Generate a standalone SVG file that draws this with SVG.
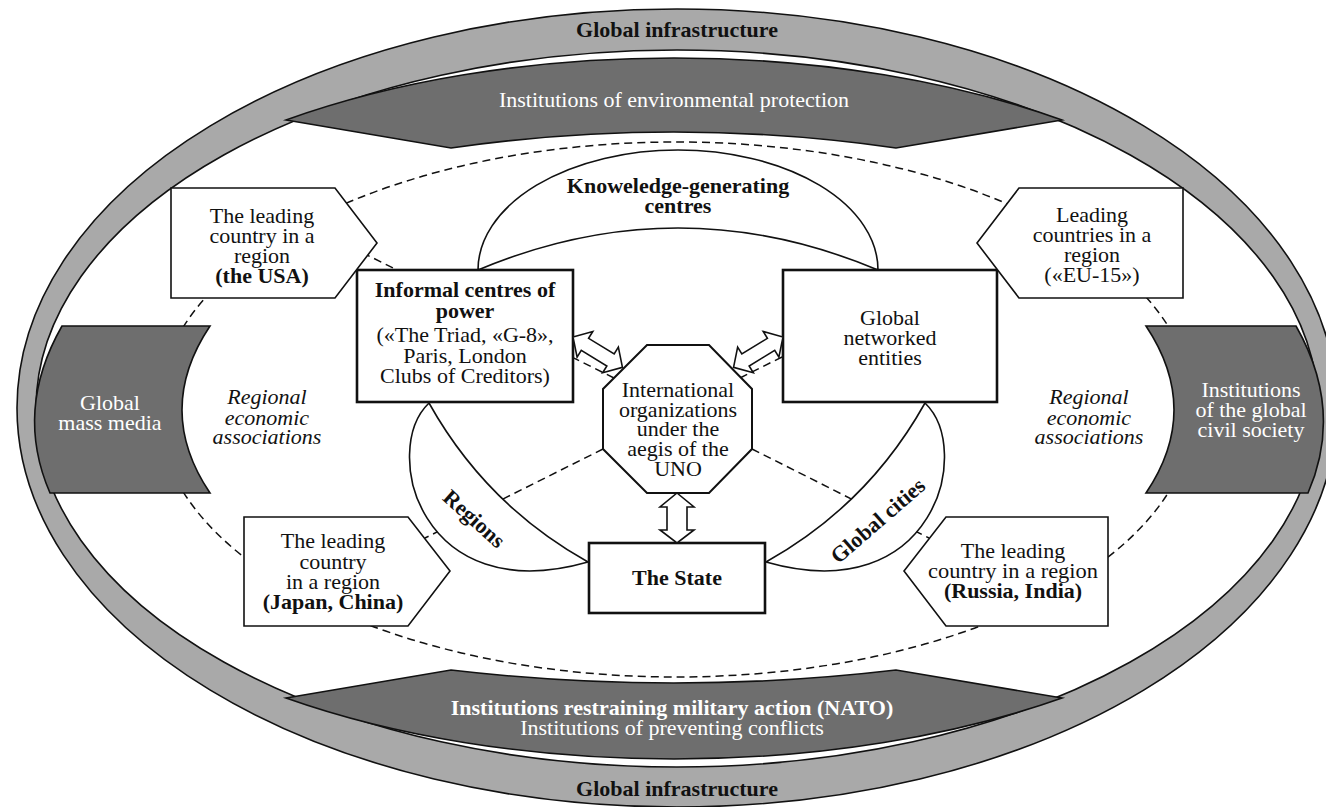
<svg xmlns="http://www.w3.org/2000/svg" width="1326" height="807" viewBox="0 0 1326 807">
<style>
.t{font-family:"Liberation Serif","Times New Roman",serif;font-size:22px;fill:#111;text-anchor:middle}
.b{font-weight:bold}
.w{fill:#fff}
.i{font-style:italic}
.ln{fill:none;stroke:#111;stroke-width:1.5}
.box{fill:#fff;stroke:#111;stroke-width:1.6}
.bx2{fill:#fff;stroke:#111;stroke-width:2.6}
.dk{fill:#6e6e6e;stroke:#111;stroke-width:1.6}
.dash{fill:none;stroke:#111;stroke-width:1.5;stroke-dasharray:8 5}
.arr{fill:#fff;stroke:#111;stroke-width:1.6;stroke-linejoin:miter}
</style>
<defs>
<path id="darr" d="M0,0 L14,-15 L14,-7 L44,-7 L44,-15 L58,0 L44,15 L44,7 L14,7 L14,15 Z"/>
</defs>
<rect width="1326" height="807" fill="#fff"/>

<g id="ring">
<path d="M17,408 A660,399 0 1 0 1337,408 A660,399 0 1 0 17,408 Z M36,408.5 A641,358.5 0 1 0 1318,408.5 A641,358.5 0 1 0 36,408.5 Z" fill="#a9a9a9" fill-rule="evenodd" stroke="#111" stroke-width="1.6"/>
<text class="t b" x="677" y="37">Global infrastructure</text>
<text class="t b" x="677" y="796">Global infrastructure</text>
</g>

<g id="env">
<path class="dk" d="M286,120 L451,148 Q674,116 896,148 L1062,120 A641,304 0 0 0 286,120 Z"/>
<text class="t w" x="674" y="107">Institutions of environmental protection</text>
</g>

<g id="nato">
<path class="dk" d="M286,698 L451,670 Q674,696 896,670 L1062,698 A641,299 0 0 1 286,698 Z"/>
<text class="t b w" x="672" y="715">Institutions restraining military action (NATO)</text>
<text class="t w" x="672" y="735">Institutions of preventing conflicts</text>
</g>

<g id="connectors">
<ellipse class="dash" cx="676" cy="409.5" rx="518" ry="267.5"/>
<line class="dash" x1="614" y1="378" x2="365" y2="254"/>
<line class="dash" x1="740" y1="378" x2="800" y2="348"/>
<line class="dash" x1="603" y1="449" x2="425" y2="538"/>
<line class="dash" x1="752" y1="449" x2="929" y2="538"/>
</g>

<g id="knowledge">
<path class="box" d="M478,270 A200,120 0 0 1 878,270 Q678,186 478,270 Z"/>
<text class="t b" x="678" y="193">Knoweledge-generating</text>
<text class="t b" x="678" y="213">centres</text>
</g>

<g id="regions">
<path class="box" d="M429,403 C380,450 420,610 588,562 Q486,505 429,403 Z"/>
<text class="t b" transform="translate(474,519) rotate(42)" x="0" y="7">Regions</text>
</g>

<g id="global-cities">
<path class="box" d="M925,403 C974,450 934,610 766,562 Q868,505 925,403 Z"/>
<text class="t b" transform="translate(878,521) rotate(-41)" x="0" y="7">Global cities</text>
</g>

<g id="informal">
<rect class="bx2" x="357" y="270" width="216" height="132"/>
<text class="t b" x="465" y="297">Informal centres of</text>
<text class="t b" x="465" y="318">power</text>
<text class="t" x="465" y="342">(«The Triad, «G-8»,</text>
<text class="t" x="465" y="363">Paris, London</text>
<text class="t" x="465" y="383">Clubs of Creditors)</text>
</g>

<g id="networked">
<rect class="bx2" x="783" y="270" width="214" height="132"/>
<text class="t" x="890" y="325">Global</text>
<text class="t" x="890" y="345">networked</text>
<text class="t" x="890" y="365">entities</text>
</g>

<g id="uno">
<polygon class="bx2" points="647,345 709,345 752,389 752,449 709,493 647,493 603,449 603,389" style="stroke-width:2"/>
<text class="t" x="678" y="397">International</text>
<text class="t" x="678" y="417">organizations</text>
<text class="t" x="678" y="436">under the</text>
<text class="t" x="678" y="456">aegis of the</text>
<text class="t" x="678" y="476">UNO</text>
</g>

<g id="state">
<rect class="bx2" x="589" y="543" width="176" height="70"/>
<text class="t b" x="677" y="585">The State</text>
</g>

<g id="arrows">
<use href="#darr" class="arr" transform="translate(573,337) rotate(31.5)"/>
<use href="#darr" class="arr" transform="translate(783,337) rotate(148.5)"/>
<path class="arr" d="M677,493 L694,507 L687,507 L687,530 L694,530 L677,543 L660,530 L667,530 L667,507 L660,507 Z"/>
</g>

<g id="mass-media">
<path class="dk" d="M62,326 L210,326 Q154,410 210,493 L50,493 Q14,410 62,326 Z"/>
<text class="t w" x="110" y="410">Global</text>
<text class="t w" x="110" y="430">mass media</text>
</g>

<g id="civil-society">
<path class="dk" d="M1296,326 L1146,326 Q1202,410 1146,493 L1308,493 Q1344,410 1296,326 Z"/>
<text class="t w" x="1251" y="397">Institutions</text>
<text class="t w" x="1251" y="417">of the global</text>
<text class="t w" x="1251" y="437">civil society</text>
</g>

<g id="rea-left">
<text class="t i" x="267" y="404">Regional</text>
<text class="t i" x="267" y="425">economic</text>
<text class="t i" x="267" y="444">associations</text>
</g>
<g id="rea-right">
<text class="t i" x="1089" y="404">Regional</text>
<text class="t i" x="1089" y="425">economic</text>
<text class="t i" x="1089" y="444">associations</text>
</g>

<g id="usa">
<path class="box" d="M171,188 L335,188 L377,243 L335,298 L171,298 Z"/>
<text class="t" x="262" y="223">The leading</text>
<text class="t" x="262" y="243">country in a</text>
<text class="t" x="262" y="263">region</text>
<text class="t b" x="262" y="283">(the USA)</text>
</g>

<g id="eu">
<path class="box" d="M1183,188 L1019,188 L977,243 L1019,298 L1183,298 Z"/>
<text class="t" x="1092" y="222">Leading</text>
<text class="t" x="1092" y="242">countries in a</text>
<text class="t" x="1092" y="262">region</text>
<text class="t" x="1092" y="282">(«EU-15»)</text>
</g>

<g id="japan">
<path class="box" d="M244,517 L408,517 L450,571 L408,626 L244,626 Z"/>
<text class="t" x="333" y="548">The leading</text>
<text class="t" x="333" y="569">country</text>
<text class="t" x="333" y="589">in a region</text>
<text class="t b" x="333" y="609">(Japan, China)</text>
</g>

<g id="russia">
<path class="box" d="M1108,517 L946,517 L904,571 L946,626 L1108,626 Z"/>
<text class="t" x="1013" y="558">The leading</text>
<text class="t" x="1013" y="578" textLength="170" lengthAdjust="spacingAndGlyphs">country in a region</text>
<text class="t b" x="1013" y="598">(Russia, India)</text>
</g>
</svg>
